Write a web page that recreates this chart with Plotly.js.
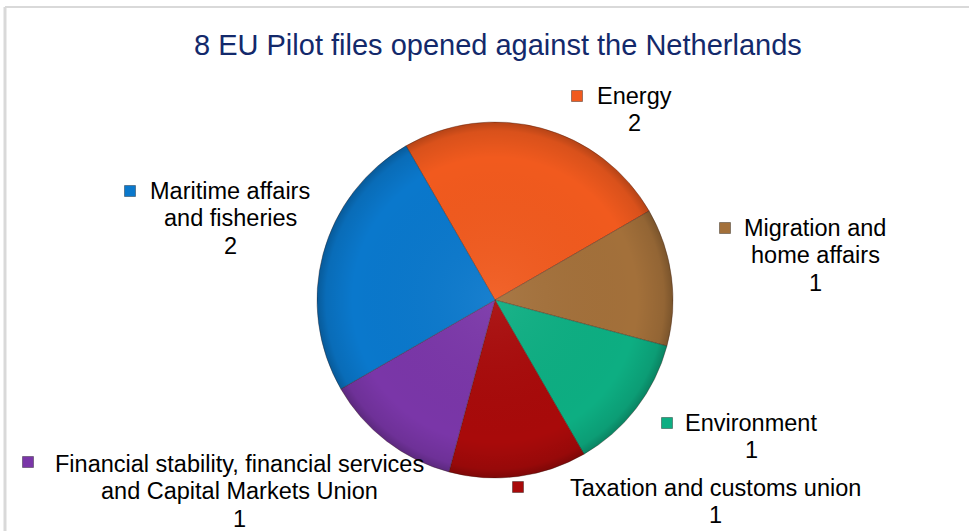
<!DOCTYPE html>
<html>
<head>
<meta charset="utf-8">
<script src="https://cdn.plot.ly/plotly-3.0.1.min.js"></script>
<style>
  html, body { margin: 0; padding: 0; background: #fff; }
  #chart { width: 969px; height: 531px; }
</style>
</head>
<body>
<div id="chart"></div>
<script>
// ---- Data (clockwise from the Energy slice) ----
const categories = [
  "Energy",
  "Migration and home affairs",
  "Environment",
  "Taxation and customs union",
  "Financial stability, financial services and Capital Markets Union",
  "Maritime affairs and fisheries"
];
const values = [2, 1, 1, 1, 1, 2];
const colors = ["#F15A1E", "#A3703A", "#0DAE82", "#A80A0A", "#7A36A8", "#0A78CC"];
// label lines as drawn on the chart (text only)
const labelLines = [
  ["Energy"],
  ["Migration and", "home affairs"],
  ["Environment"],
  ["Taxation and customs union"],
  ["Financial stability, financial services", "and Capital Markets Union"],
  ["Maritime affairs", "and fisheries"]
];
const titleText = "8 EU Pilot files opened against the Netherlands";

// ---- Layout helpers (pixel -> paper, margins are 0) ----
const W = 969, H = 531;
const px = x => x / W;
const py = y => 1 - y / H;

// label block placement: [center x, first line y, marker x, marker y]
const labelPos = [
  [634, 96, 577, 96],
  [815, 228, 725, 228],
  [751, 423, 667, 423],
  [715, 488, 518, 487],
  [239, 464, 28, 462],
  [230, 191, 130, 191]
];
const lineGap = 27.3;
const fontFamily = "Liberation Sans, Arial, sans-serif";

const annotations = [];
const shapes = [];
labelPos.forEach((p, i) => {
  const lines = labelLines[i].concat([String(values[i])]);
  lines.forEach((t, k) => {
    annotations.push({
      xref: "paper", yref: "paper",
      x: px(p[0]), y: py(p[1] + k * lineGap),
      xanchor: "center", yanchor: "middle",
      text: t, showarrow: false,
      font: { family: fontFamily, size: 23.5, color: "#000000" }
    });
  });
  const s = 5.5;
  shapes.push({
    type: "rect", xref: "paper", yref: "paper",
    x0: px(p[2] - s), x1: px(p[2] + s),
    y0: py(p[3] + s), y1: py(p[3] - s),
    fillcolor: colors[i],
    line: { color: "rgba(0,0,0,0.35)", width: 1 }
  });
});

// chart frame (light grey top and left edges)
shapes.push({ type: "line", xref: "paper", yref: "paper",
  x0: px(5), x1: 1, y0: py(7), y1: py(7),
  line: { color: "#D9D9D9", width: 2 } });
shapes.push({ type: "line", xref: "paper", yref: "paper",
  x0: px(5), x1: px(5), y0: py(7), y1: 0,
  line: { color: "#D9D9D9", width: 3 } });

annotations.push({
  xref: "paper", yref: "paper",
  x: px(498), y: py(45),
  xanchor: "center", yanchor: "middle",
  text: titleText, showarrow: false,
  font: { family: fontFamily, size: 29, color: "#13296B" }
});

// subtle rim shading over the pie (decoration only)
const shadeSvg =
  '<svg xmlns="http://www.w3.org/2000/svg" width="100" height="100">' +
  '<defs><radialGradient id="g" cx="50%" cy="50%" r="50%">' +
  '<stop offset="0%" stop-color="#fff" stop-opacity="0.06"/>' +
  '<stop offset="80%" stop-color="#000" stop-opacity="0"/>' +
  '<stop offset="95%" stop-color="#000" stop-opacity="0.10"/>' +
  '<stop offset="100%" stop-color="#000" stop-opacity="0.25"/>' +
  '</radialGradient></defs>' +
  '<circle cx="50" cy="50" r="50" fill="url(#g)"/></svg>';

const trace = {
  type: "pie",
  labels: categories,
  values: values,
  sort: false,
  direction: "clockwise",
  rotation: -30,
  marker: { colors: colors, line: { color: "rgba(60,30,20,0.35)", width: 1 } },
  textinfo: "none",
  hoverinfo: "label+value",
  domain: { x: [px(317), px(673)], y: [py(478), py(122)] },
  showlegend: false
};

const layout = {
  width: W, height: H,
  margin: { l: 0, r: 0, t: 0, b: 0 },
  paper_bgcolor: "#FFFFFF",
  plot_bgcolor: "#FFFFFF",
  showlegend: false,
  annotations: annotations,
  shapes: shapes,
  images: [{
    source: "data:image/svg+xml;charset=utf-8," + encodeURIComponent(shadeSvg),
    xref: "paper", yref: "paper",
    x: px(317), y: py(122), sizex: px(673) - px(317), sizey: py(122) - py(478),
    xanchor: "left", yanchor: "top", sizing: "stretch", layer: "above", opacity: 1
  }]
};

Plotly.newPlot("chart", [trace], layout, { displayModeBar: false, staticPlot: true });
</script>
</body>
</html>
